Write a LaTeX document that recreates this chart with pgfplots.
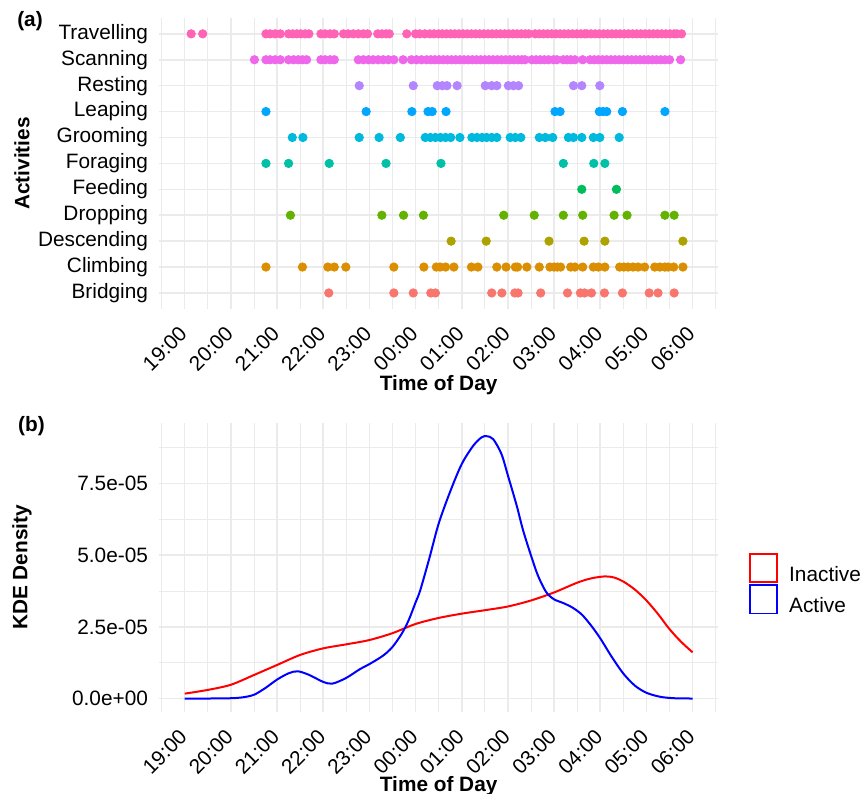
\documentclass[border=0pt]{standalone}
\usepackage{fontspec}
\setmainfont{Liberation Sans}
\usepackage{pgfplots}
\pgfplotsset{compat=1.18}

\definecolor{gridgrey}{HTML}{EBEBEB}
\definecolor{cBri}{HTML}{F8766D}
\definecolor{cCli}{HTML}{DB8E00}
\definecolor{cDes}{HTML}{AEA200}
\definecolor{cDro}{HTML}{64B200}
\definecolor{cFee}{HTML}{00BD5C}
\definecolor{cFor}{HTML}{00C1A7}
\definecolor{cGro}{HTML}{00BADE}
\definecolor{cLea}{HTML}{00A6FF}
\definecolor{cRes}{HTML}{B385FF}
\definecolor{cSca}{HTML}{EF67EB}
\definecolor{cTra}{HTML}{FF63B6}

\newcommand{\chartfont}{\fontsize{10.4bp}{12bp}\selectfont}

\pgfplotsset{
  panel/.style={
    scale only axis, width=279.35bp,
    xmin=-0.55, xmax=11.55,
    xtick={0,...,11},
    xticklabels={19:00,20:00,21:00,22:00,23:00,00:00,01:00,02:00,03:00,04:00,05:00,06:00},
    minor xtick={-0.5,0.5,...,11.5},
    grid=both,
    major grid style={draw=gridgrey, line width=0.8bp},
    minor grid style={draw=gridgrey, line width=0.4bp},
    axis line style={draw=none},
    tick style={draw=none},
    major tick length=0pt, minor tick length=0pt,
    tick label style={font=\chartfont, text=black},
    label style={font=\chartfont\bfseries},
    xticklabel style={xshift=-3.4bp, yshift=-8bp, rotate=45, anchor=north east, inner sep=0pt},
    yticklabel style={anchor=east, xshift=-5.5bp, inner sep=0pt},
    xlabel={Time of Day},
  },
  dots/.style={only marks, mark=*, mark size=2.1bp, color=#1, mark options={draw=none, fill=#1}},
}

\begin{document}
\begin{tikzpicture}
\useasboundingbox (0,0) rectangle (433bp,-397bp);

% (a) activities through the night
\begin{axis}[panel,
    at={(79.65bp,-9.15bp)}, anchor=north west,
    height=145.1bp,
    ymin=0.4, ymax=11.6,
    ytick={1,...,11},
    yticklabels={Bridging,Climbing,Descending,Dropping,Feeding,Foraging,Grooming,Leaping,Resting,Scanning,Travelling},
    ylabel={Activities},
    xlabel style={at={(axis description cs:0.5,-0.2636)}, anchor=center},
    ylabel style={at={(axis description cs:-0.2457,0.5)}, anchor=center},
]
\addplot[dots=cBri] coordinates {
(3.12,1)(4.53,1)(4.95,1)(5.33,1)(5.43,1)(6.65,1)(6.87,1)(7.15,1)(7.22,1)(7.71,1)
(8.29,1)(8.57,1)(8.66,1)(8.81,1)(9.09,1)(9.48,1)(10.06,1)(10.25,1)(10.60,1)};
\addplot[dots=cCli] coordinates {
(1.76,2)(2.55,2)(3.10,2)(3.24,2)(3.49,2)(4.53,2)(5.18,2)(5.45,2)(5.53,2)(5.65,2)
(5.83,2)(6.21,2)(6.35,2)(6.76,2)(6.96,2)(7.16,2)(7.21,2)(7.41,2)(7.68,2)(7.91,2)
(8.00,2)(8.07,2)(8.14,2)(8.36,2)(8.45,2)(8.62,2)(8.85,2)(8.96,2)(9.10,2)(9.42,2)
(9.51,2)(9.60,2)(9.71,2)(9.82,2)(9.96,2)(10.18,2)(10.29,2)(10.40,2)(10.47,2)(10.59,2)(10.79,2)};
\addplot[dots=cDes] coordinates {
(5.77,3)(6.53,3)(7.89,3)(8.65,3)(9.10,3)(10.79,3)};
\addplot[dots=cDro] coordinates {
(2.29,4)(4.27,4)(4.74,4)(5.17,4)(6.91,4)(7.57,4)(8.20,4)(8.62,4)(9.30,4)(9.58,4)(10.40,4)(10.60,4)};
\addplot[dots=cFee] coordinates {
(8.60,5)(9.35,5)};
\addplot[dots=cFor] coordinates {
(1.76,6)(2.25,6)(3.13,6)(4.36,6)(5.55,6)(8.20,6)(8.86,6)(9.10,6)};
\addplot[dots=cGro] coordinates {
(2.33,7)(2.56,7)(3.78,7)(4.21,7)(4.67,7)(5.21,7)(5.32,7)(5.43,7)(5.54,7)(5.65,7)
(5.76,7)(5.96,7)(6.22,7)(6.33,7)(6.44,7)(6.54,7)(6.65,7)(6.76,7)(7.05,7)(7.16,7)
(7.28,7)(7.68,7)(7.81,7)(7.97,7)(8.31,7)(8.42,7)(8.60,7)(8.85,7)(8.99,7)(9.41,7)};
\addplot[dots=cLea] coordinates {
(1.76,8)(3.93,8)(4.92,8)(5.27,8)(5.36,8)(5.66,8)(8.02,8)(8.13,8)(8.98,8)(9.06,8)
(9.14,8)(9.48,8)(10.40,8)};
\addplot[dots=cRes] coordinates {
(3.78,9)(4.95,9)(5.47,9)(5.58,9)(5.68,9)(5.90,9)(6.51,9)(6.65,9)(6.76,9)(7.01,9)
(7.12,9)(7.23,9)(8.42,9)(8.60,9)(8.99,9)};
\addplot[dots=cSca] coordinates {
(1.51,10)(1.76,10)(1.85,10)(1.96,10)(2.07,10)(2.25,10)(2.36,10)(2.46,10)(2.55,10)(2.64,10)
(2.95,10)(3.04,10)(3.15,10)(3.24,10)(3.76,10)(3.87,10)(3.98,10)(4.08,10)(4.19,10)(4.30,10)
(4.41,10)(4.53,10)(4.73,10)(4.91,10)(5.02,10)(5.13,10)(5.24,10)(5.33,10)(5.42,10)(5.51,10)
(5.60,10)(5.69,10)(5.78,10)(5.87,10)(5.96,10)(6.05,10)(6.14,10)(6.23,10)(6.32,10)(6.41,10)
(6.50,10)(6.59,10)(6.68,10)(6.77,10)(6.86,10)(6.95,10)(7.04,10)(7.13,10)(7.22,10)(7.30,10)
(7.37,10)(7.52,10)(7.61,10)(7.70,10)(7.79,10)(7.88,10)(7.99,10)(8.06,10)(8.20,10)(8.28,10)
(8.36,10)(8.45,10)(8.62,10)(8.78,10)(8.87,10)(8.96,10)(9.05,10)(9.14,10)(9.23,10)(9.32,10)
(9.41,10)(9.50,10)(9.59,10)(9.68,10)(9.77,10)(9.86,10)(9.95,10)(10.04,10)(10.13,10)(10.22,10)
(10.31,10)(10.40,10)(10.50,10)(10.74,10)};
\addplot[dots=cTra] coordinates {
(0.14,11)(0.39,11)(1.76,11)(1.85,11)(1.96,11)(2.07,11)(2.25,11)(2.34,11)(2.43,11)(2.51,11)
(2.61,11)(2.69,11)(2.95,11)(3.04,11)(3.15,11)(3.24,11)(3.44,11)(3.54,11)(3.65,11)(3.76,11)
(3.87,11)(3.96,11)(4.18,11)(4.27,11)(4.36,11)(4.43,11)(4.81,11)(5.00,11)(5.09,11)(5.20,11)
(5.31,11)(5.40,11)(5.50,11)(5.58,11)(5.67,11)(5.76,11)(5.85,11)(5.94,11)(6.03,11)(6.12,11)
(6.21,11)(6.30,11)(6.39,11)(6.48,11)(6.57,11)(6.66,11)(6.75,11)(6.84,11)(6.93,11)(7.02,11)
(7.11,11)(7.20,11)(7.29,11)(7.38,11)(7.45,11)(7.59,11)(7.68,11)(7.77,11)(7.86,11)(7.95,11)
(8.04,11)(8.13,11)(8.22,11)(8.31,11)(8.40,11)(8.49,11)(8.58,11)(8.66,11)(8.71,11)(8.80,11)
(8.89,11)(8.98,11)(9.07,11)(9.16,11)(9.25,11)(9.34,11)(9.43,11)(9.52,11)(9.61,11)(9.70,11)
(9.79,11)(9.88,11)(9.97,11)(10.06,11)(10.15,11)(10.24,11)(10.33,11)(10.42,11)(10.51,11)(10.60,11)
(10.66,11)(10.76,11)};
\end{axis}

% (b) kernel density of inactive / active behaviour (values in units of 1e-05)
\begin{axis}[panel,
    at={(79.65bp,-211.65bp)}, anchor=north west,
    height=144.2bp,
    ymin=-0.46, ymax=9.6,
    ytick={0,2.5,5,7.5},
    yticklabels={0.0e+00,2.5e-05,5.0e-05,7.5e-05},
    minor ytick={1.25,3.75,6.25,8.75},
    ylabel={KDE Density},
    xlabel style={at={(axis description cs:0.5,-0.2576)}, anchor=center},
    ylabel style={at={(axis description cs:-0.2457,0.5)}, anchor=center},
    legend style={at={(axis description cs:1.0555,0.5503)}, anchor=north west,
      draw=none, fill=none, inner sep=0pt, outer sep=0pt,
      row sep=0pt, column sep=5.75bp, font=\chartfont, nodes={inner sep=0pt}},
    legend cell align=left,
    legend image code/.code={\draw[#1, line width=0.75bp, fill=none] (0bp,-3.4bp) rectangle (13.6bp,10.8bp);},
]
\addplot[smooth, color=red, line width=1bp] coordinates {
(0,0.17)(0.5,0.30)(1,0.48)(1.5,0.82)(2,1.17)(2.5,1.52)(3,1.75)(3.5,1.89)(4,2.04)(4.5,2.28)
(5,2.60)(5.5,2.81)(6,2.96)(6.5,3.08)(7,3.21)(7.5,3.42)(8,3.70)(8.5,4.04)(8.8,4.19)(9.1,4.26)
(9.3,4.22)(9.5,4.08)(9.75,3.80)(10,3.42)(10.25,2.95)(10.5,2.42)(10.75,1.98)(11,1.61)};
\addlegendentry{Inactive}
\addplot[smooth, color=blue, line width=1bp] coordinates {
(0,0)(0.5,0)(1,0.01)(1.25,0.04)(1.5,0.13)(1.75,0.37)(2,0.66)(2.25,0.88)(2.45,0.95)(2.7,0.82)
(3,0.58)(3.2,0.52)(3.5,0.72)(3.8,1.03)(4,1.20)(4.3,1.50)(4.5,1.80)(4.7,2.26)(4.85,2.73)(5,3.35)
(5.1,3.77)(5.3,4.90)(5.5,6.10)(5.75,7.22)(6,8.18)(6.25,8.82)(6.43,9.11)(6.54,9.15)(6.68,9.05)(6.86,8.53)
(7,7.78)(7.19,6.73)(7.33,5.86)(7.5,4.99)(7.65,4.29)(7.83,3.71)(8,3.46)(8.2,3.33)(8.4,3.17)(8.6,2.93)
(8.8,2.55)(9,2.10)(9.25,1.45)(9.5,0.87)(9.75,0.45)(10,0.20)(10.3,0.06)(10.6,0.01)(11,0)};
\addlegendentry{Active}
\end{axis}

\node[font=\chartfont\bfseries] at (15bp,-10.75bp) {(a)};
\node[font=\chartfont\bfseries] at (15.75bp,-213.25bp) {(b)};
\end{tikzpicture}
\end{document}
